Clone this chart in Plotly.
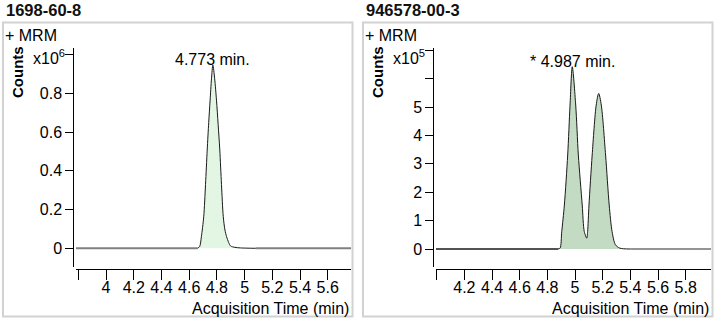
import plotly.graph_objects as go

W, H = 720, 325
FONT = "Liberation Sans, Arial, sans-serif"

# ---------------- data ----------------
panel_titles = ["1698-60-8", "946578-00-3"]
scan_label = "+ MRM"
y_title = "Counts"
x_title = "Acquisition Time (min)"
exponents = ["x10<sup>6</sup>", "x10<sup>5</sup>"]
peak_labels = ["4.773 min.", "* 4.987 min."]

# Panel 1 (intensity in units of 1e6 counts)
time1 = [3.783, 4.50, 4.660, 4.676, 4.688, 4.705, 4.718, 4.730, 4.741, 4.751, 4.761,
         4.771, 4.784, 4.797, 4.809, 4.821, 4.833, 4.846, 4.858, 4.870, 4.885, 4.899,
         4.93, 4.97, 5.08, 5.768]
counts1 = [0.0, 0.0, 0.0, 0.01, 0.060, 0.163, 0.33, 0.507, 0.65, 0.765, 0.875,
           0.946, 0.875, 0.765, 0.64, 0.507, 0.33, 0.163, 0.095, 0.060, 0.03, 0.012,
           0.005, 0.002, 0.0, 0.0]
peak_window1 = (4.660, 5.08)
apex1 = (4.771, 0.946)

# Panel 2 (intensity in units of 1e5 counts)
time2 = [3.995, 4.80, 4.877, 4.892, 4.904, 4.923, 4.947, 4.964, 4.980, 5.005, 5.024,
         5.052, 5.067, 5.085, 5.091, 5.101, 5.124, 5.153, 5.171, 5.190, 5.221, 5.247,
         5.268, 5.292, 5.324, 5.40, 5.983]
counts2 = [0.0, 0.0, 0.0, 0.03, 0.61, 1.55, 3.31, 5.07, 6.42, 5.07, 3.31,
           1.55, 0.61, 0.38, 0.61, 1.55, 3.31, 5.07, 5.48, 5.07, 3.31, 1.55,
           0.61, 0.15, 0.03, 0.0, 0.0]
peak_window2 = (4.877, 5.40)
apex2 = (4.980, 6.42)

x_ticks1 = [3.8, 4.0, 4.2, 4.4, 4.6, 4.8, 5.0, 5.2, 5.4, 5.6]
x_text1 = ["", "4", "4.2", "4.4", "4.6", "4.8", "5", "5.2", "5.4", "5.6"]
x_ticks2 = [4.0, 4.2, 4.4, 4.6, 4.8, 5.0, 5.2, 5.4, 5.6, 5.8]
x_text2 = ["", "4.2", "4.4", "4.6", "4.8", "5", "5.2", "5.4", "5.6", "5.8"]
y_ticks1 = [0, 0.2, 0.4, 0.6, 0.8, 1.0]
y_text1 = ["0", "0.2", "0.4", "0.6", "0.8", ""]
y_ticks2 = [0, 1, 2, 3, 4, 5, 6, 7]
y_text2 = ["0", "1", "2", "3", "4", "5", "", ""]

x_range1 = [3.783, 5.768]
x_range2 = [3.995, 5.983]
y_range1 = [-0.0965, 1.034]
y_range2 = [-0.634, 7.08]

# ---------------- layout helpers ----------------
def px(x):
    return x / W

def py(y):
    return 1 - y / H

fig = go.Figure()

panels = [
    dict(t=time1, c=counts1, win=peak_window1, apex=apex1, xa="x", ya="y",
         fill="#e3f6e3", base_left="#808080", base_right="#808080", bw=2),
    dict(t=time2, c=counts2, win=peak_window2, apex=apex2, xa="x2", ya="y2",
         fill="#c3dac3", base_left="#1a1a1a", base_right="#707070", bw=1.5),
]

for p in panels:
    lo, hi = p["win"]
    left = [(t, c) for t, c in zip(p["t"], p["c"]) if t <= lo]
    right = [(t, c) for t, c in zip(p["t"], p["c"]) if t >= hi]
    mid = [(t, c) for t, c in zip(p["t"], p["c"]) if lo <= t <= hi]
    for seg, col in ((left, p["base_left"]), (right, p["base_right"])):
        fig.add_trace(go.Scatter(x=[s[0] for s in seg], y=[s[1] for s in seg],
                                 mode="lines", line=dict(color=col, width=p["bw"]),
                                 xaxis=p["xa"], yaxis=p["ya"], showlegend=False,
                                 hoverinfo="skip"))
    fig.add_trace(go.Scatter(x=[s[0] for s in mid], y=[s[1] for s in mid],
                             mode="lines", fill="tozeroy", fillcolor=p["fill"],
                             line=dict(color="#1a1a1a", width=1, shape="spline",
                                       smoothing=0.8),
                             xaxis=p["xa"], yaxis=p["ya"], showlegend=False,
                             hoverinfo="skip"))

axis_common = dict(showgrid=False, zeroline=False, showline=True, linecolor="black",
                   linewidth=1, ticks="outside", tickcolor="black", tickwidth=1,
                   tickmode="array", tickfont=dict(family=FONT, size=16, color="black"),
                   fixedrange=True)

y_dom = [py(267), py(48)]
x_pos = py(269)

fig.update_layout(
    width=W, height=H, margin=dict(l=0, r=0, t=0, b=0),
    paper_bgcolor="white", plot_bgcolor="white",
    xaxis=dict(**axis_common, domain=[px(76), px(351)], range=x_range1,
               tickvals=x_ticks1, ticktext=x_text1, ticklen=10, ticklabelstandoff=-6,
               anchor="free", position=x_pos),
    yaxis=dict(**axis_common, domain=y_dom, range=y_range1,
               tickvals=y_ticks1, ticktext=y_text1, ticklen=8,
               anchor="free", position=px(73.3)),
    xaxis2=dict(**axis_common, domain=[px(436), px(711)], range=x_range2,
                tickvals=x_ticks2, ticktext=x_text2, ticklen=10, ticklabelstandoff=-6,
                anchor="free", position=x_pos),
    yaxis2=dict(**axis_common, domain=y_dom, range=y_range2,
                tickvals=y_ticks2, ticktext=y_text2, ticklen=8,
                anchor="free", position=px(433.3)),
)

shapes = []
annotations = []
for i, off in enumerate([0, 360]):
    shapes.append(dict(type="rect", xref="paper", yref="paper",
                       x0=px(off + 3), x1=px(off + 352.5), y0=py(316.5), y1=py(22.5),
                       line=dict(color="#d2d2d2", width=2), fillcolor="rgba(0,0,0,0)",
                       layer="below"))
    annotations += [
        dict(text=f"<b>{panel_titles[i]}</b>", x=px(off + 4), y=py(10.5),
             xanchor="left", yanchor="middle",
             font=dict(family=FONT, size=16.5, color="#111")),
        dict(text=scan_label, x=px(off + 3), y=py(36), xanchor="left", yanchor="middle",
             font=dict(family=FONT, size=16, color="black")),
        dict(text=f"<b>{y_title}</b>", x=px(off + 17), y=py(72), textangle=-90,
             xanchor="center", yanchor="middle",
             font=dict(family=FONT, size=15, color="black")),
        dict(text=exponents[i], x=px(off + 67), y=py(57), xanchor="right",
             yanchor="middle", font=dict(family=FONT, size=16, color="black")),
        dict(text=x_title, x=px(off + 351), y=py(308), xanchor="right",
             yanchor="middle", font=dict(family=FONT, size=16, color="black")),
    ]

for p, lab in zip(panels, peak_labels):
    annotations.append(dict(text=lab, x=p["apex"][0], y=p["apex"][1], xref=p["xa"],
                            yref=p["ya"], xanchor="center", yanchor="bottom",
                            yshift=-5, showarrow=False,
                            font=dict(family=FONT, size=16, color="black")))

for a in annotations:
    a.setdefault("xref", "paper")
    a.setdefault("yref", "paper")
    a["showarrow"] = False

fig.update_layout(shapes=shapes, annotations=annotations)
fig.write_html("out.html")
